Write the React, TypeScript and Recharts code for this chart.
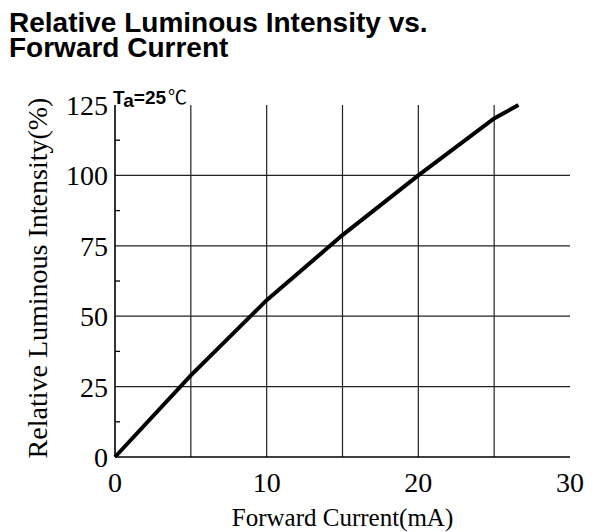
import { LineChart, Line, XAxis, YAxis, CartesianGrid } from 'recharts'

const currentMA = [0, 5, 10, 15, 20, 25, 26.6]
const intensityPct = [0, 29, 55.7, 78.8, 100, 120.2, 125]
const xTicks = [0, 5, 10, 15, 20, 25, 30]
const xLabelTicks = [0, 10, 20, 30]
const yTicks = [0, 12.5, 25, 37.5, 50, 62.5, 75, 87.5, 100, 112.5, 125]
const yLabelTicks = [0, 25, 50, 75, 100, 125]
const yMinorTicks = [12.5, 37.5, 62.5, 87.5, 112.5]
const xGrid = [5, 10, 15, 20, 25]
const yGrid = [25, 50, 75, 100]

const data = currentMA.map((c, i) => ({ current: c, intensity: intensityPct[i] }))

const serif = '"Liberation Serif", "Times New Roman", serif'
const sans = '"Liberation Sans", Arial, sans-serif'

function XTick({ x, y, payload }: any) {
  if (!xLabelTicks.includes(payload.value)) return null
  return (
    <text x={x} y={y} dy={33} textAnchor="middle" fontFamily={serif} fontSize={28} fill="#000">
      {payload.value}
    </text>
  )
}

// left axis: labels on the majors, short inward marks on the minors
function YTickLeft({ x, y, payload }: any) {
  if (yLabelTicks.includes(payload.value)) {
    return (
      <text x={x} y={y} dy="0.355em" textAnchor="end" fontFamily={serif} fontSize={28} fill="#000">
        {payload.value}
      </text>
    )
  }
  return <line x1={x + 7} x2={x + 12} y1={y} y2={y} stroke="#000" strokeWidth={1.3} />
}

function YTickRight({ x, y, payload }: any) {
  if (!yMinorTicks.includes(payload.value)) return null
  return <line x1={x - 5} x2={x} y1={y} y2={y} stroke="#000" strokeWidth={1.3} />
}

function YLabel({ viewBox }: any) {
  const cx = 37
  const cy = viewBox.y + viewBox.height / 2 - 3
  return (
    <text x={cx} y={cy} transform={`rotate(-90 ${cx} ${cy})`} textAnchor="middle" dominantBaseline="central" fontFamily={serif} fontSize={28} fill="#000">
      Relative Luminous Intensity(%)
    </text>
  )
}

export default function App() {
  return (
    <div style={{ position: 'relative', width: 600, height: 532, background: '#fff' }}>
      <style>{'body{margin:0}'}</style>
      <div style={{ position: 'absolute', left: 9, top: 10, fontFamily: sans, fontWeight: 'bold', fontSize: 28, lineHeight: '25px', color: '#000' }}>
        Relative Luminous Intensity vs.
        <br />
        Forward Current
      </div>
      <div style={{ position: 'absolute', left: 113, top: 82, fontFamily: sans, fontWeight: 'bold', fontSize: 19, color: '#000', zIndex: 2, whiteSpace: 'nowrap' }}>
        T<span style={{ position: 'relative', top: 3 }}>a</span>=25<span style={{ fontFamily: '"Noto Sans CJK SC"', fontWeight: 'normal', marginLeft: 2 }}>℃</span>
      </div>
      <LineChart width={600} height={532} data={data} margin={{ top: 105, right: 30, bottom: 0, left: 0 }}>
        <CartesianGrid horizontalValues={yGrid} verticalValues={xGrid} stroke="#222" strokeWidth={1.2} />
        <XAxis
          dataKey="current"
          type="number"
          domain={[0, 30]}
          ticks={xTicks}
          height={75}
          tickLine={false}
          tickSize={0}
          axisLine={{ stroke: '#000', strokeWidth: 1.6 }}
          tick={<XTick />}
          interval={0}
          label={{ value: 'Forward Current(mA)', position: 'insideBottom', offset: 6, fontFamily: serif, fontSize: 25, fill: '#000' }}
        />
        <XAxis xAxisId="top" orientation="top" dataKey="current" type="number" domain={[0, 30]} height={0} tick={false} tickLine={false} axisLine={{ stroke: '#000', strokeWidth: 1.6 }} />
        <YAxis
          type="number"
          domain={[0, 125]}
          ticks={yTicks}
          width={115}
          tickLine={false}
          tickSize={0}
          tickMargin={7}
          interval={0}
          axisLine={{ stroke: '#000', strokeWidth: 1.6 }}
          tick={<YTickLeft />}
          label={{ content: <YLabel /> }}
        />
        <YAxis
          yAxisId="right"
          orientation="right"
          type="number"
          domain={[0, 125]}
          ticks={yTicks}
          width={0}
          interval={0}
          tickSize={0}
          tickMargin={0}
          tickLine={false}
          tick={<YTickRight />}
          axisLine={{ stroke: '#000', strokeWidth: 1.6 }}
        />
        <Line type="linear" dataKey="intensity" stroke="#000" strokeWidth={4} dot={false} isAnimationActive={false} />
      </LineChart>
    </div>
  )
}
